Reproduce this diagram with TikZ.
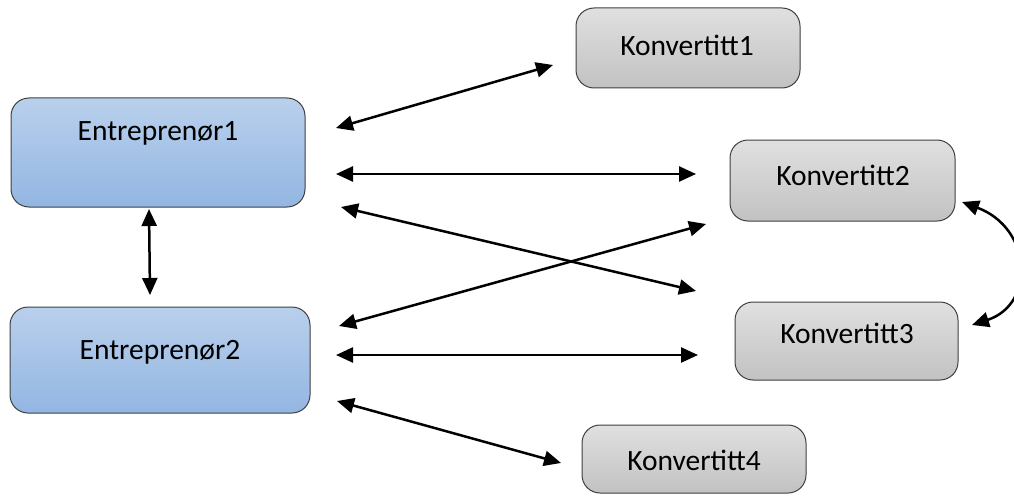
\documentclass[tikz,border=0pt]{standalone}
\usepackage{fontspec}
\setmainfont{Carlito}
\usetikzlibrary{arrows.meta}
\definecolor{bluetop}{HTML}{B9D0EC}
\definecolor{bluebot}{HTML}{93B6E2}
\definecolor{graytop}{HTML}{E0E0E0}
\definecolor{graybot}{HTML}{C2C2C2}
\definecolor{edge}{HTML}{3F3F3F}
\tikzset{
  boxbase/.style={draw=edge, line width=1pt, rounded corners=18pt},
  entbox/.style={boxbase, top color=bluetop, bottom color=bluebot},
  konbox/.style={boxbase, top color=graytop, bottom color=graybot},
  lbl/.style={font=\fontsize{29.5}{35}\selectfont, inner sep=0pt},
  conn/.style={line width=2.5pt, {Triangle[length=17pt,width=15pt]}-{Triangle[length=17pt,width=15pt]}}
}
\begin{document}
\begin{tikzpicture}[x=1pt,y=-1pt]
\useasboundingbox (0,0) rectangle (1014,500);
% boxes
\path[entbox] (11,98) rectangle (305,207);
\node[lbl] (e1) at (158,133) {Entreprenør1};
\path[entbox] (10,307) rectangle (310,413);
\node[lbl] (e2) at (160,352) {Entreprenør2};
\path[konbox] (576,8) rectangle (800,88);
\node[lbl] (k1) at (687,45) {Konvertitt1};
\path[konbox] (730,140) rectangle (955,221);
\node[lbl] (k2) at (843,175) {Konvertitt2};
\path[konbox] (735,302) rectangle (958,380);
\node[lbl] (k3) at (847,333) {Konvertitt3};
\path[konbox] (582,425) rectangle (806,493);
\node[lbl] (k4) at (694,460) {Konvertitt4};
% connector end points
\coordinate (a1) at (336,128); \coordinate (b1) at (553,65);
\coordinate (a2) at (336,174); \coordinate (b2) at (696,174);
\coordinate (a3) at (341,207); \coordinate (b3) at (696,291);
\coordinate (a4) at (339,326); \coordinate (b4) at (706,224);
\coordinate (a5) at (336,355); \coordinate (b5) at (698,355);
\coordinate (a6) at (337,401); \coordinate (b6) at (561,463);
\coordinate (a7) at (149,209); \coordinate (b7) at (150,295);
\coordinate (a8) at (962,202); \coordinate (b8) at (972,325);
% connectors
\draw[conn] (a1) -- (b1);
\draw[conn] (a2) -- (b2);
\draw[conn] (a3) -- (b3);
\draw[conn] (a4) -- (b4);
\draw[conn] (a5) -- (b5);
\draw[conn] (a6) -- (b6);
\draw[conn] (a7) -- (b7);
\draw[conn] (a8) .. controls (1032,228) and (1036,304) .. (b8);
\end{tikzpicture}
\end{document}
